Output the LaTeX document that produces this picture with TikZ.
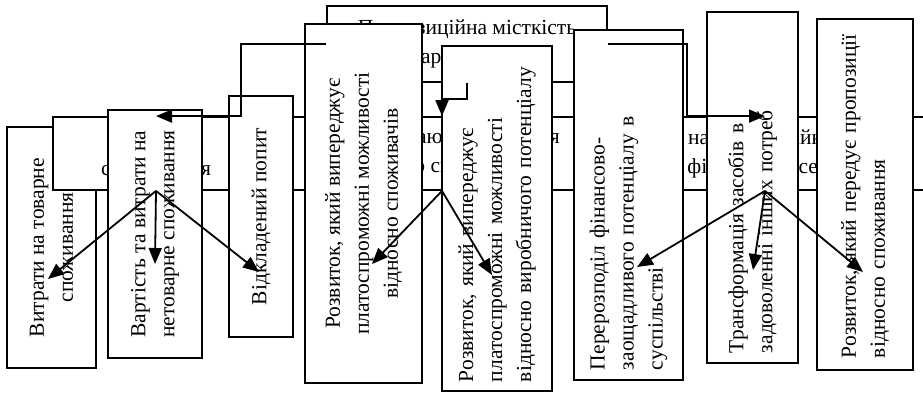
\documentclass[tikz,border=0pt]{standalone}
\usepackage{fontspec}
\setmainfont{Liberation Serif}
\usetikzlibrary{arrows.meta}
\begin{document}
\begin{tikzpicture}[x=1pt,y=-1pt,
  box/.style={draw, line width=1.8pt, fill=white, inner sep=0pt,
    font=\fontsize{21.5pt}{29pt}\selectfont},
  vbox/.style={box, rotate=90},
  conn/.style={line width=1.8pt, -{Triangle[length=16pt,width=13pt]}}
]
\useasboundingbox (0,0) rectangle (923,392);
\fill[white] (0,0) rectangle (923,392);
\begin{scope}
\clip (0,0) rectangle (923,392);
% lowest box
\node[vbox, minimum width=241pt, minimum height=89pt, align=center] (B1) at (51.5,247.5) {Витрати на товарне\\споживання};
% band boxes
\node[box, minimum width=350pt, minimum height=73pt, align=center] (R) at (765,153.5) {Кошти на інвестиційні потреби\\у фінансовий сектор};
\node[box, minimum width=366pt, minimum height=73pt, align=center] (M) at (442,153.5) {Випереджаюче зростання\\відносно споживання};
\node[box, minimum width=206pt, minimum height=73pt, align=center] (L) at (156,153.5) {Структура\\споживання};
% top box
\node[box, minimum width=280pt, minimum height=76pt, align=center] (T) at (467,44) {Пропозиційна місткість\\товарного ринку};
% vertical boxes
\node[vbox, minimum width=248pt, minimum height=94pt, align=center] (B2) at (155,234) {Вартість та витрати на\\нетоварне споживання};
\node[vbox, minimum width=241pt, minimum height=64pt, align=center] (B3) at (261,216.5) {Відкладений попит};
\node[vbox, minimum width=359pt, minimum height=117pt, align=center] (B4) at (363.5,203.5) {Розвиток, який випереджує\\платоспроможні можливості\\відносно споживачів};
\node[vbox, minimum width=345pt, minimum height=110pt, align=left, text width=327pt] (B5) at (497,218.5) {Розвиток, який випереджує\\платоспроможні можливості\\відносно виробничого потенціалу};
\node[vbox, minimum width=350pt, minimum height=109pt, align=left, text width=330pt] (B6) at (628.5,205) {Перерозподіл фінансово-\\заощадливого потенціалу в\\суспільстві};
\node[vbox, minimum width=351pt, minimum height=91pt, align=left, text width=331pt] (B7) at (752.5,187.5) {Трансформація засобів в\\задоволенні інших потреб};
\node[vbox, minimum width=351pt, minimum height=96pt, align=left, text width=327pt] (B8) at (865,194.5) {Розвиток, який передує пропозиції\\відносно споживання};
% connectors from the top box
\draw[conn] (T.west) -- ++(-85,0) |- (L.north);
\draw[conn] (T.south) -- ++(0,16) -| (M.north);
\draw[conn] (T.east) -- ++(79,0) |- (R.north);
% arrow tips inside the boxes
\coordinate (a1) at (48,279);
\coordinate (a2) at (155,264);
\coordinate (a3) at (259,272);
\coordinate (a4) at (372,264);
\coordinate (a5) at (492,275);
\coordinate (a6) at (637,267);
\coordinate (a7) at (753,270);
\coordinate (a8) at (863,272);
\draw[conn] (L.south) -- (a1);
\draw[conn] (L.south) -- (a2);
\draw[conn] (L.south) -- (a3);
\draw[conn] (M.south) -- (a4);
\draw[conn] (M.south) -- (a5);
\draw[conn] (R.south) -- (a6);
\draw[conn] (R.south) -- (a7);
\draw[conn] (R.south) -- (a8);
\end{scope}
\end{tikzpicture}
\end{document}
